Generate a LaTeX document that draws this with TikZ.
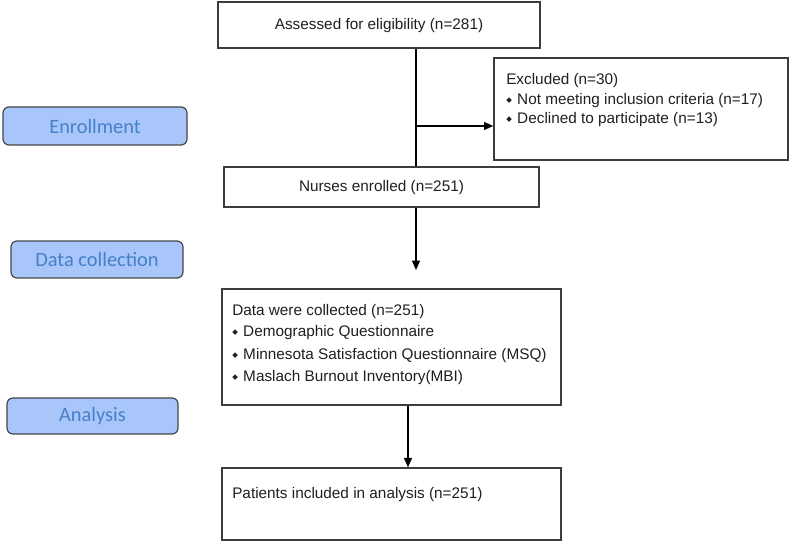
\documentclass[tikz,border=0pt]{standalone}
\usepackage{fontspec}
\setmainfont{Liberation Sans}
\newfontfamily\calib{Carlito}
\newfontfamily\sym{DejaVu Sans}
\usetikzlibrary{arrows.meta}
\definecolor{lblfill}{RGB}{168,198,250}
\definecolor{lbltext}{RGB}{70,128,200}
\definecolor{lbldraw}{RGB}{70,70,75}
\definecolor{boxdraw}{RGB}{60,60,60}
\newcommand{\dia}{\raisebox{1.6pt}{\sym\fontsize{5.5}{5.5}\selectfont ◆}\hspace{4pt}}
\begin{document}
\begin{tikzpicture}[x=0.75pt,y=-0.75pt,
  box/.style={draw=boxdraw,line width=1pt,inner sep=0pt},
  lbl/.style={draw=lbldraw,fill=lblfill,line width=0.9pt,rounded corners=4.5pt,inner sep=0pt,text=lbltext,font=\calib\fontsize{15.3}{17}\selectfont},
  txt/.style={font=\fontsize{11.5}{13}\selectfont,text=black!88,inner sep=0pt},
  arr/.style={line width=1pt,-{Triangle[length=7pt,width=6pt]}},
  ln/.style={line width=1pt}]
\useasboundingbox (0,0) rectangle (790,541);
% side labels
\node[lbl,minimum width=184*0.75pt,minimum height=38*0.75pt] (enr) at (95,126) {Enrollment};
\node[lbl,minimum width=172*0.75pt,minimum height=37*0.75pt] (dc) at (97,259.5) {Data collection};
\node[lbl,minimum width=171*0.75pt,minimum height=36*0.75pt] (an) at (92.5,416) {Analysis};
% boxes
\node[box,minimum width=322*0.75pt,minimum height=46*0.75pt] (ass) at (379,25) {};
\node[txt] (asst) at (379,26) {Assessed for eligibility (n=281)};
\node[box,minimum width=294*0.75pt,minimum height=102*0.75pt] (exc) at (641,109) {};
\node[txt,anchor=west] (e1) at (506,80.5) {Excluded (n=30)};
\node[txt,anchor=west] (e2) at (506,100.5) {\dia Not meeting inclusion criteria (n=17)};
\node[txt,anchor=west] (e3) at (506,119.5) {\dia Declined to participate (n=13)};
\node[box,minimum width=315*0.75pt,minimum height=40*0.75pt] (nur) at (381.5,187) {};
\node[txt] (nurt) at (381.5,188) {Nurses enrolled (n=251)};
\node[box,minimum width=339*0.75pt,minimum height=116*0.75pt] (dat) at (391.5,347) {};
\node[txt,anchor=west] (d1) at (232,311.5) {Data were collected (n=251)};
\node[txt,anchor=west] (d2) at (232,332.5) {\dia Demographic Questionnaire};
\node[txt,anchor=west] (d3) at (232,355.5) {\dia Minnesota Satisfaction Questionnaire (MSQ)};
\node[txt,anchor=west] (d4) at (232,377.5) {\dia Maslach Burnout Inventory(MBI)};
\node[box,minimum width=339*0.75pt,minimum height=72*0.75pt] (pat) at (391.5,504) {};
\node[txt,anchor=west] (p1) at (232,494.5) {Patients included in analysis (n=251)};
% connectors
\coordinate (j1) at (416,126);
\coordinate (j2) at (416,270);
\coordinate (j3) at (408,0);
\draw[ln] (ass.south -| j1) -- (nur.north -| j1);
\draw[arr] (j1) -- (exc.west |- j1);
\draw[arr] (nur.south -| j2) -- (j2);
\draw[arr] (dat.south -| j3) -- (pat.north -| j3);
\end{tikzpicture}
\end{document}
